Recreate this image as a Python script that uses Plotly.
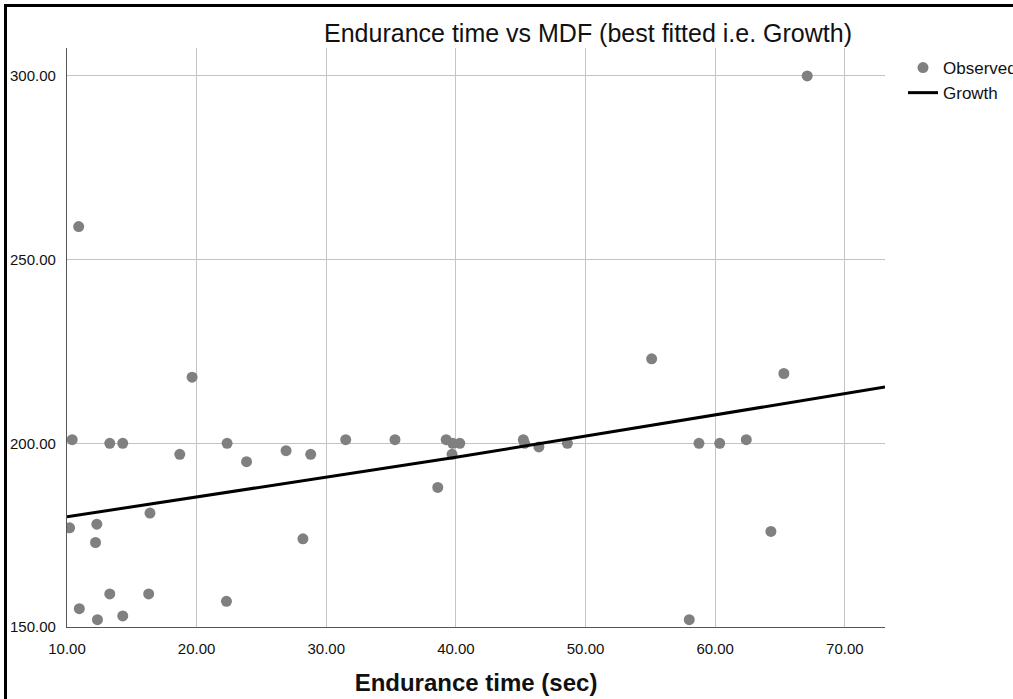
import plotly.graph_objects as go

# Observed data (Endurance time in sec, MDF)
endurance_time = [10.2, 10.4, 10.9, 10.95, 12.3, 12.2, 12.35, 13.3, 14.3, 13.3,
                  14.3, 16.4, 16.3, 18.7, 19.65, 22.3, 22.35, 23.85, 26.9, 28.8,
                  28.2, 31.5, 35.3, 39.25, 39.75, 40.3, 39.7, 38.6, 45.2, 45.3,
                  46.4, 48.6, 55.1, 58.75, 60.35, 62.4, 65.3, 64.3, 58.0, 67.1]
mdf = [177, 201, 259, 155, 178, 173, 152, 200, 200, 159,
       153, 181, 159, 197, 218, 157, 200, 195, 198, 197,
       174, 201, 201, 201, 200, 200, 197, 188, 201, 200,
       199, 200, 223, 200, 200, 201, 219, 176, 152, 300]

# Growth fit line
growth_x = [10.0, 40.0, 73.1]
growth_y = [180.0, 196.2, 215.3]

x_ticks = [10, 20, 30, 40, 50, 60, 70]
x_tick_labels = ["10.00", "20.00", "30.00", "40.00", "50.00", "60.00", "70.00"]
y_ticks = [150, 200, 250, 300]
y_tick_labels = ["150.00", "200.00", "250.00", "300.00"]

FONT = "Liberation Sans, Arial, sans-serif"
W, H = 1013, 699
ML, MR, MT, MB = 67, 128, 48, 72
PW, PH = W - ML - MR, H - MT - MB

fig = go.Figure()
fig.add_trace(go.Scatter(
    x=endurance_time, y=mdf, mode="markers", name="Observed",
    marker=dict(color="#808080", size=11, line=dict(width=0)),
))
fig.add_trace(go.Scatter(
    x=growth_x, y=growth_y, mode="lines", name="Growth",
    line=dict(color="black", width=3),
))

# outer frame
fig.add_shape(type="rect", xref="paper", yref="paper",
              x0=(5.5 - ML) / PW, x1=1.3, y0=-0.3, y1=1 + (MT - 5.5) / PH,
              line=dict(color="black", width=3), fillcolor="rgba(0,0,0,0)", layer="above")

fig.update_layout(
    width=W, height=H,
    margin=dict(l=ML, r=MR, t=MT, b=MB, autoexpand=False),
    paper_bgcolor="white", plot_bgcolor="white",
    font=dict(family=FONT, color="#111111"),
    title=dict(text="Endurance time vs MDF (best fitted i.e. Growth)",
               x=588 / W, xanchor="center", xref="container",
               y=1 - 33 / H, yanchor="middle", yref="container",
               font=dict(size=25, family=FONT, color="#111111")),
    xaxis=dict(range=[10, 73.1], tickvals=x_ticks, ticktext=x_tick_labels,
               showgrid=True, gridcolor="#c4c4c4", gridwidth=1,
               showline=True, linecolor="#555555", linewidth=1.2,
               zeroline=False, ticks="", ticklabelstandoff=8,
               tickfont=dict(size=15, family=FONT, color="#111111"),
               title=dict(text="<b>Endurance time (sec)</b>", standoff=18,
                          font=dict(size=24, family=FONT, color="#111111"))),
    yaxis=dict(range=[150, 307.6], tickvals=y_ticks, ticktext=y_tick_labels,
               showgrid=True, gridcolor="#c4c4c4", gridwidth=1,
               showline=True, linecolor="#555555", linewidth=1.2,
               zeroline=False, ticks="", ticklabelstandoff=7,
               tickfont=dict(size=15, family=FONT, color="#111111")),
    legend=dict(x=(903 - ML) / PW, xanchor="left", y=1 - 2 / PH, yanchor="top",
                font=dict(size=17, family=FONT, color="#111111"),
                bgcolor="rgba(0,0,0,0)", borderwidth=0, tracegroupgap=0),
    showlegend=True,
)

fig.write_html("out.html", config={"displayModeBar": False},
               post_script="document.body.style.margin='0';document.body.style.overflow='hidden';")
